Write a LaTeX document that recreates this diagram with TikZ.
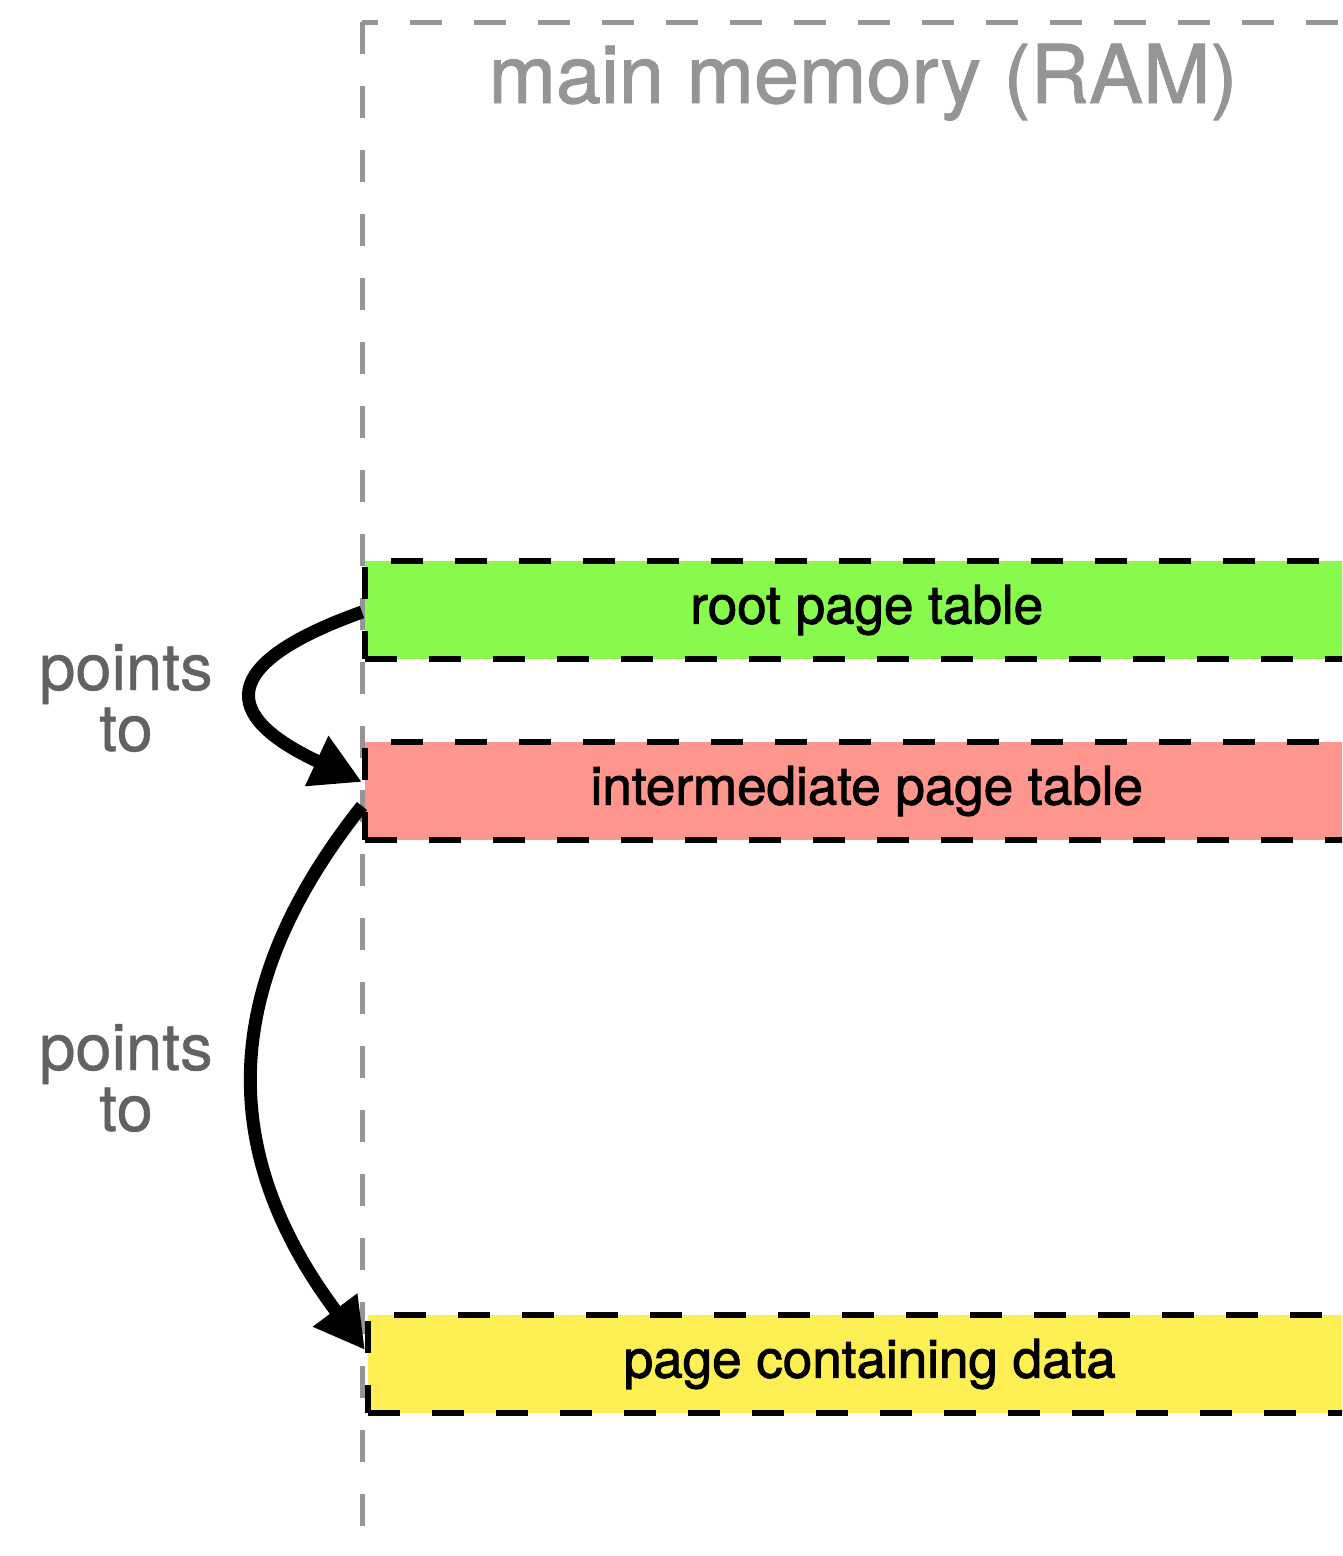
\documentclass[tikz,border=0pt]{standalone}
\usepackage{fontspec}
\setmainfont{TeX Gyre Heros}
\usetikzlibrary{arrows.meta}

\definecolor{framegray}{HTML}{959595}
\definecolor{notegray}{HTML}{626262}
\definecolor{rootgreen}{HTML}{88FA4E}
\definecolor{midpink}{HTML}{FF968D}
\definecolor{datayellow}{HTML}{FEEF55}

\tikzset{
  memframe/.style={draw=framegray, line width=5pt, dash pattern=on 32pt off 32pt},
  pagebox/.style={draw=black, line width=5.5pt, dash pattern=on 32pt off 32pt,
    anchor=west, minimum width=1004pt, minimum height=98pt, inner sep=0pt,
    font=\fontsize{53}{60}\selectfont\addfontfeature{FakeBold=1.8}},
  framelabel/.style={text=framegray, font=\fontsize{81}{90}\selectfont\addfontfeature{FakeBold=1.2}, anchor=base},
  pointlabel/.style={text=notegray, align=center, inner sep=0pt,
    font=\fontsize{65}{61}\selectfont\addfontfeature{FakeBold=0.7}},
  pointer/.style={line width=13pt, -{Triangle[length=50pt,width=52pt]}}
}

\begin{document}
\begin{tikzpicture}[x=1pt, y=-1pt]
  \useasboundingbox (0,0) rectangle (1342,1556);
  \clip (0,0) rectangle (1342,1556);

  % main memory outline
  \draw[memframe] (362,22) rectangle (1440,1640);
  \node[framelabel] (ramtitle) at (863,103) {main memory (RAM)};

  % page-table levels and the data page
  \node[pagebox, fill=rootgreen] (root) at (362,610) {root page table};
  \node[pagebox, fill=midpink] (inter) at (362,791) {intermediate page table};
  \node[pagebox, fill=datayellow] (data) at (365,1364) {page containing data};

  % pointer arrows
  \draw[pointer] ([yshift=-2pt]root.west)
    .. controls +(-145,52) and +(-142,-66) .. ([yshift=9pt]inter.west);
  \draw[pointer] ([yshift=-15pt]inter.west)
    .. controls +(-146,184) and +(-146,-195) .. ([yshift=14pt]data.west);

  \node[pointlabel] (note1) at (126,698) {points\\to};
  \node[pointlabel] (note2) at (126,1078) {points\\to};
\end{tikzpicture}
\end{document}
